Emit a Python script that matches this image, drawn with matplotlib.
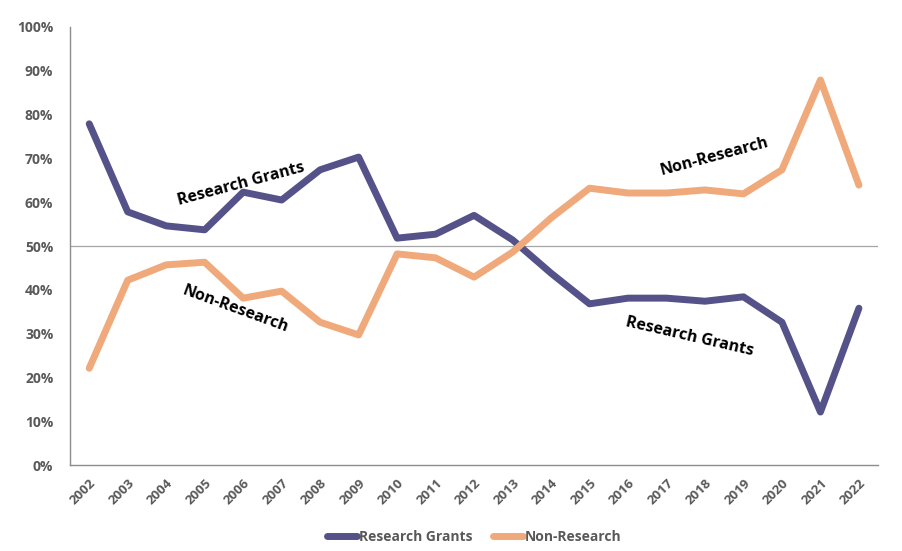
import matplotlib.pyplot as plt
from matplotlib.ticker import PercentFormatter

years = [str(y) for y in range(2002, 2023)]
research = [77.9, 57.8, 54.6, 53.7, 62.3, 60.5, 67.4, 70.3, 51.8, 52.7, 57.0,
            51.4, 43.8, 36.8, 38.1, 38.1, 37.4, 38.4, 32.6, 12.1, 35.8]
non_research = [22.1, 42.2, 45.7, 46.3, 38.1, 39.7, 32.6, 29.7, 48.2, 47.3, 42.9,
                48.6, 56.4, 63.2, 62.1, 62.1, 62.8, 61.9, 67.4, 87.9, 63.9]

purple = "#55528a"
orange = "#f0a97a"
grey = "#595959"

plt.rcParams['font.family'] = ['Open Sans', 'DejaVu Sans']

fig = plt.figure(figsize=(9.03, 5.51), dpi=100)
ax = fig.add_axes([0.0775, 0.156, 0.895, 0.795])

x = list(range(len(years)))
ax.plot(x, research, color=purple, lw=5, solid_capstyle='round',
        solid_joinstyle='round', label="Research Grants")
ax.plot(x, non_research, color=orange, lw=5, solid_capstyle='round',
        solid_joinstyle='round', label="Non-Research")
ax.axhline(50, color="#a6a6a6", lw=0.9, zorder=0)

ax.set_xlim(-0.5, len(years) - 0.5)
ax.set_ylim(0, 100)
ax.set_yticks(range(0, 101, 10))
ax.yaxis.set_major_formatter(PercentFormatter(decimals=0))
ax.set_xticks(x)
ax.set_xticklabels(years, rotation=45, ha='right', rotation_mode='anchor')
ax.tick_params(axis='both', length=0, colors=grey, labelsize=10)
ax.tick_params(axis='x', labelsize=9.5, pad=8)
for lab in ax.get_xticklabels() + ax.get_yticklabels():
    lab.set_fontweight('bold')
ax.tick_params(axis='y', pad=12)

for s in ['top', 'right']:
    ax.spines[s].set_visible(False)
for s in ['left', 'bottom']:
    ax.spines[s].set_color("#8c8c8c")
    ax.spines[s].set_linewidth(1)

# inline labels
ax.text(3.95, 64.0, "Research Grants", rotation=15, fontsize=11.5,
        fontweight='bold', ha='center', va='center')
ax.text(16.25, 70.5, "Non-Research", rotation=15, fontsize=11.5,
        fontweight='bold', ha='center', va='center')
ax.text(3.8, 35.5, "Non-Research", rotation=-20, fontsize=11.5,
        fontweight='bold', ha='center', va='center')
ax.text(15.6, 29.2, "Research Grants", rotation=-13, fontsize=11.5,
        fontweight='bold', ha='center', va='center')

leg = ax.legend(loc='center', bbox_to_anchor=(0.5, -0.165), ncol=2,
                frameon=False, fontsize=10, handlelength=2.2,
                handletextpad=0.1, columnspacing=1.5)
for t in leg.get_texts():
    t.set_color(grey)
    t.set_fontweight('bold')

fig.savefig("out.png", dpi=100)
